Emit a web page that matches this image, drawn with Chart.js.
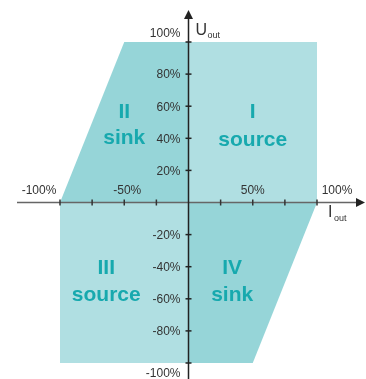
<!DOCTYPE html>
<html>
<head>
<meta charset="utf-8">
<script src="https://cdn.jsdelivr.net/npm/chart.js@4"></script>
<style>
  body { margin: 0; background: #fff; }
</style>
</head>
<body>
<canvas id="myChart" width="366" height="379"></canvas>
<script>
// quadrant outlines, current (x, %) and voltage (y, %)
const q1Current = [0, 100];
const q1Voltage = [100, 100];
const q2Current = [-100, -50, 0];
const q2Voltage = [0, 100, 100];
const q3Current = [-100, 0];
const q3Voltage = [-100, -100];
const q4Current = [0, 50, 100];
const q4Voltage = [-100, -100, 0];

const quadNames = ['I', 'II', 'III', 'IV'];
const quadModes = ['source', 'sink', 'source', 'sink'];

const xTickLabels = [-100, -50, 50, 100];
const xTickMarks = [-100, -75, -50, -25, 25, 50, 75, 100];
const yTickLabels = [100, 80, 60, 40, 20, -20, -40, -60, -80, -100];

const light = '#b0dfe2';
const dark = '#96d5d8';

function pts(xs, ys) {
  return xs.map((x, i) => ({ x: x, y: ys[i] }));
}

function area(xs, ys, color) {
  return {
    data: pts(xs, ys),
    showLine: true,
    fill: 'origin',
    backgroundColor: color,
    borderWidth: 0,
    pointRadius: 0
  };
}

const axesPlugin = {
  id: 'axes',
  afterDatasetsDraw(chart) {
    const c = chart.ctx;
    const xs = chart.scales.x, ys = chart.scales.y;
    const x0 = xs.getPixelForValue(0), y0 = ys.getPixelForValue(0);
    c.save();

    // quadrant labels
    const spots = [[50, 56, 39], [-50, 56, 40], [-64, -41, -58], [34, -41, -58]];
    c.fillStyle = '#17a9ae';
    c.font = 'bold 21px "Liberation Sans", Arial, sans-serif';
    c.textAlign = 'center';
    c.textBaseline = 'middle';
    quadNames.forEach((n, i) => {
      const s = spots[i];
      c.fillText(n, xs.getPixelForValue(s[0]), ys.getPixelForValue(s[1]));
      c.fillText(quadModes[i], xs.getPixelForValue(s[0]), ys.getPixelForValue(s[2]));
    });

    // x axis
    c.strokeStyle = '#666';
    c.lineWidth = 1.5;
    c.beginPath();
    c.moveTo(17, y0);
    c.lineTo(358, y0);
    c.stroke();
    c.fillStyle = '#222';
    c.beginPath();
    c.moveTo(365, y0);
    c.lineTo(356, y0 - 4.5);
    c.lineTo(356, y0 + 4.5);
    c.closePath();
    c.fill();
    c.strokeStyle = '#333';
    xTickMarks.forEach(v => {
      const px = xs.getPixelForValue(v);
      c.beginPath();
      c.moveTo(px, y0 - 3);
      c.lineTo(px, y0 + 3);
      c.stroke();
    });

    // y axis
    c.strokeStyle = '#222';
    c.beginPath();
    c.moveTo(x0, 379);
    c.lineTo(x0, 17);
    c.stroke();
    c.beginPath();
    c.moveTo(x0, 10);
    c.lineTo(x0 - 4.5, 19);
    c.lineTo(x0 + 4.5, 19);
    c.closePath();
    c.fill();
    yTickLabels.forEach(v => {
      const py = ys.getPixelForValue(v);
      c.beginPath();
      c.moveTo(x0 - 3, py);
      c.lineTo(x0 + 3, py);
      c.stroke();
    });

    // tick labels
    c.fillStyle = '#333';
    c.font = '12px "Liberation Sans", Arial, sans-serif';
    c.textAlign = 'right';
    yTickLabels.forEach(v => {
      let py = ys.getPixelForValue(v);
      if (v === 100) py -= 9;
      if (v === -100) py += 10;
      c.fillText(v + '%', x0 - 8, py + 1);
    });
    c.textAlign = 'center';
    xTickLabels.forEach(v => {
      let px = xs.getPixelForValue(v);
      if (v === -100) px -= 21;
      if (v === 100) px += 20;
      if (v === -50) px += 3;
      c.fillText(v + '%', px, y0 - 12);
    });

    // axis titles
    c.textAlign = 'left';
    c.font = '16px "Liberation Sans", Arial, sans-serif';
    c.fillText('U', x0 + 7, 31);
    c.fillText('I', 328, 213);
    c.font = '9px "Liberation Sans", Arial, sans-serif';
    c.fillText('out', x0 + 19, 36);
    c.fillText('out', 334, 219);
    c.restore();
  }
};

new Chart(document.getElementById('myChart'), {
  type: 'scatter',
  data: {
    datasets: [
      area(q1Current, q1Voltage, light),
      area(q2Current, q2Voltage, dark),
      area(q3Current, q3Voltage, light),
      area(q4Current, q4Voltage, dark)
    ]
  },
  options: {
    responsive: false,
    animation: false,
    layout: { padding: { left: 60, right: 49, top: 42, bottom: 16 } },
    plugins: { legend: { display: false }, tooltip: { enabled: false } },
    scales: {
      x: { type: 'linear', min: -100, max: 100, display: false },
      y: { type: 'linear', min: -100, max: 100, display: false }
    }
  },
  plugins: [axesPlugin]
});
</script>
</body>
</html>
